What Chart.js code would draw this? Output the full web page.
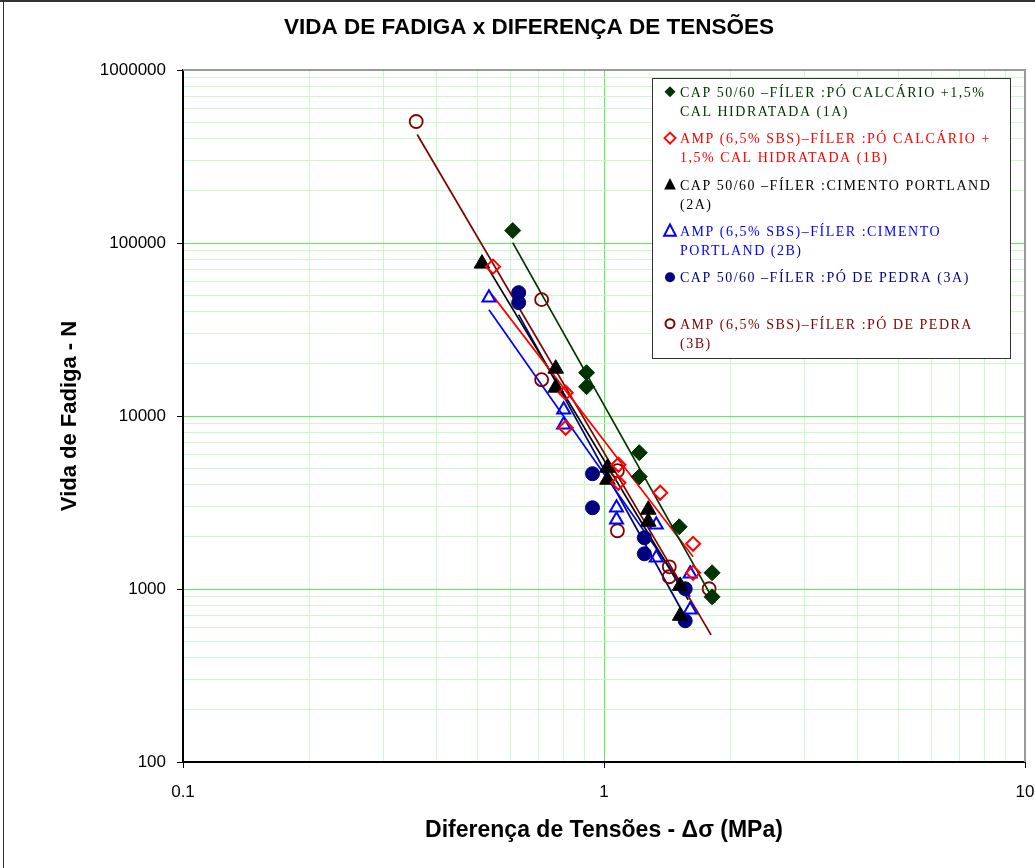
<!DOCTYPE html>
<html><head><meta charset="utf-8">
<script src="https://cdn.jsdelivr.net/npm/chart.js@4/dist/chart.umd.min.js"></script>
<style>html,body{margin:0;padding:0;background:#fff;}canvas{display:block;}</style>
</head><body>
<canvas id="c" width="1035" height="868"></canvas>
<script>
// ---- text ----
const chartTitle = 'VIDA DE FADIGA x DIFERENÇA DE TENSÕES';
const xAxisTitle = 'Diferença de Tensões - Δσ (MPa)';
const yAxisTitle = 'Vida de Fadiga - N';
const xTickValues = [0.1, 1, 10];
const xTickLabels = ['0.1', '1', '10'];
const yTickValues = [100, 1000, 10000, 100000, 1000000];
const yTickLabels = ['100', '1000', '10000', '100000', '1000000'];

const seriesLabels = [
  ['CAP 50/60 –FÍLER :PÓ CALCÁRIO +1,5%', 'CAL HIDRATADA (1A)'],
  ['AMP (6,5% SBS)–FÍLER :PÓ CALCÁRIO +', '1,5% CAL HIDRATADA (1B)'],
  ['CAP 50/60 –FÍLER :CIMENTO PORTLAND', '(2A)'],
  ['AMP (6,5% SBS)–FÍLER :CIMENTO', 'PORTLAND (2B)'],
  ['CAP 50/60 –FÍLER :PÓ DE PEDRA (3A)'],
  ['AMP (6,5% SBS)–FÍLER :PÓ DE PEDRA', '(3B)']
];

// ---- data (Δσ in MPa, N cycles) ----
const x1A = [0.607, 0.909, 0.909, 1.213, 1.213, 1.509, 1.806, 1.806];
const y1A = [118000, 17800, 14770, 6135, 4456, 2289, 1241, 901];
const x1B = [0.545, 0.811, 0.811, 1.082, 1.082, 1.36, 1.628, 1.628];
const y1B = [73000, 13640, 8556, 5226, 4113, 3600, 1825, 1241];
const x2A = [0.513, 0.768, 0.768, 1.019, 1.019, 1.274, 1.274, 1.517, 1.517];
const y2A = [76000, 18770, 14580, 5023, 4280, 2872, 2447, 1043, 700];
const x2B = [0.533, 0.802, 0.802, 1.071, 1.071, 1.331, 1.331, 1.602, 1.602];
const y2B = [48300, 10870, 8907, 2949, 2513, 2351, 1515, 1224, 758];
const x3A = [0.627, 0.627, 0.939, 0.939, 1.247, 1.247, 1.559, 1.559];
const y3A = [51650, 45220, 4638, 2949, 1978, 1598, 1003, 655];
const x3B = [0.358, 0.711, 0.711, 1.076, 1.076, 1.429, 1.429, 1.777];
const y3B = [503700, 47060, 16220, 4827, 2171, 1344, 1177, 1003];

// ---- trend lines (end points) ----
const trendX1A = [0.607, 1.836], trendY1A = [100500, 832];
const trendX1B = [0.542, 1.628], trendY1B = [50300, 1536];
const trendX2A = [0.533, 1.585], trendY2A = [70200, 866];
const trendX2B = [0.533, 1.602], trendY2B = [41190, 902];
const trendX3A = [0.627, 1.559], trendY3A = [38540, 691];
const trendX3B = [0.360, 1.796], trendY3B = [423600, 543];

const seriesX = [x1A, x1B, x2A, x2B, x3A, x3B];
const seriesY = [y1A, y1B, y2A, y2B, y3A, y3B];
const trendX = [trendX1A, trendX1B, trendX2A, trendX2B, trendX3A, trendX3B];
const trendY = [trendY1A, trendY1B, trendY2A, trendY2B, trendY3A, trendY3B];

// ---- styles ----
const seriesStyles = [
  {color: '#003300', style: 'rectRot', fill: true,  r: 8,   bw: 1,   lr: 5.5},
  {color: '#ff0000', style: 'rectRot', fill: false, r: 7,   bw: 2,   lr: 5.5},
  {color: '#000000', style: 'triangle', fill: true, r: 9,   bw: 1,   lr: 6.5},
  {color: '#0000ff', style: 'triangle', fill: false, r: 7.5, bw: 2,  lr: 6.5},
  {color: '#000080', style: 'circle',  fill: true,  r: 7,   bw: 1,   lr: 5},
  {color: '#800000', style: 'circle',  fill: false, r: 6.5, bw: 1.8, lr: 4.5}
];

const pair = (xs, ys) => xs.map((x, i) => ({x: x, y: ys[i]}));
const datasets = [];
seriesX.forEach((xs, i) => {
  const s = seriesStyles[i];
  datasets.push({
    label: seriesLabels[i].join(' '),
    data: pair(xs, seriesY[i]),
    pointStyle: s.style,
    pointRadius: s.r,
    pointBackgroundColor: s.fill ? s.color : 'rgba(0,0,0,0)',
    pointBorderColor: s.color,
    pointBorderWidth: s.bw,
    showLine: false,
    order: 0
  });
});
trendX.forEach((xs, i) => {
  datasets.push({
    label: 'trend ' + i,
    data: pair(xs, trendY[i]),
    showLine: true,
    borderColor: seriesStyles[i].color,
    borderWidth: 1.7,
    pointRadius: 0,
    fill: false,
    order: 1
  });
});

function gridValues(majors) {
  const v = [];
  for (let d = 0; d < majors.length - 1; d++) {
    for (let k = 1; k <= 9; k++) v.push(majors[d] * k);
  }
  v.push(majors[majors.length - 1]);
  return v;
}
const isMajor = (val, majors) => majors.some(m => Math.abs(val - m) / m < 1e-9);
const MAJOR_GRID = '#5cf05c', MINOR_GRID = '#cdf7cd';
const sansBold = {family: "'Liberation Sans', Arial, sans-serif", size: 23, weight: 'bold'};
const sansBoldY = {family: "'Liberation Sans', Arial, sans-serif", size: 22, weight: 'bold'};
const tickFont = {family: "'Liberation Sans', Arial, sans-serif", size: 17};

const decor = {
  id: 'decor',
  beforeDraw(chart) {
    const ctx = chart.ctx;
    ctx.save();
    ctx.fillStyle = '#fff';
    ctx.fillRect(0, 0, chart.width, chart.height);
    ctx.restore();
  },
  beforeDatasetsDraw(chart) {
    const {ctx, chartArea: a} = chart;
    ctx.save();
    ctx.strokeStyle = '#9a9a9a';
    ctx.lineWidth = 2;
    ctx.beginPath();
    ctx.moveTo(a.left, a.top);
    ctx.lineTo(a.right, a.top);
    ctx.lineTo(a.right, a.bottom);
    ctx.stroke();
    ctx.restore();
  },
  afterDraw(chart) {
    const ctx = chart.ctx;
    ctx.save();
    // outer frame
    ctx.fillStyle = '#333';
    ctx.fillRect(0, 0, chart.width, 2);
    ctx.fillRect(3, 0, 1, chart.height);
    // title
    ctx.fillStyle = '#000';
    ctx.font = 'bold 22.5px "Liberation Sans", Arial, sans-serif';
    ctx.textAlign = 'center';
    ctx.textBaseline = 'middle';
    ctx.fillText(chartTitle, 529, 28);
    // legend box
    const bx = 652.5, by = 78.5, bw = 358, bh = 280;
    ctx.fillStyle = '#fff';
    ctx.fillRect(bx, by, bw, bh);
    ctx.strokeStyle = '#333';
    ctx.lineWidth = 1;
    ctx.strokeRect(bx, by, bw, bh);
    ctx.font = '14px "Liberation Serif", "Times New Roman", serif';
    try { ctx.letterSpacing = '1.5px'; } catch (e) {}
    ctx.textAlign = 'left';
    ctx.textBaseline = 'alphabetic';
    seriesLabels.forEach((lines, i) => {
      const s = seriesStyles[i];
      const y0 = 91.7 + i * 46.4;
      const mx = 670, my = y0, r = s.lr;
      ctx.beginPath();
      if (s.style === 'rectRot') {
        ctx.moveTo(mx - r, my); ctx.lineTo(mx, my - r); ctx.lineTo(mx + r, my); ctx.lineTo(mx, my + r); ctx.closePath();
      } else if (s.style === 'triangle') {
        ctx.moveTo(mx, my - r); ctx.lineTo(mx + r * 0.9, my + r * 0.75); ctx.lineTo(mx - r * 0.9, my + r * 0.75); ctx.closePath();
      } else {
        ctx.arc(mx, my, r, 0, Math.PI * 2);
      }
      if (s.fill) { ctx.fillStyle = s.color; ctx.fill(); }
      else { ctx.strokeStyle = s.color; ctx.lineWidth = 2; ctx.stroke(); }
      ctx.fillStyle = s.color;
      lines.forEach((t, j) => ctx.fillText(t, 680, y0 + 5 + j * 19));
    });
    ctx.restore();
  }
};

new Chart(document.getElementById('c'), {
  type: 'scatter',
  data: {datasets: datasets},
  options: {
    responsive: false,
    animation: false,
    layout: {padding: {left: 0, right: 6, top: 70, bottom: 0}},
    plugins: {legend: {display: false}, tooltip: {enabled: false}, title: {display: false}},
    scales: {
      x: {
        type: 'logarithmic', min: 0.1, max: 10, position: 'bottom',
        afterBuildTicks: s => { s.ticks = gridValues(xTickValues).map(v => ({value: v})); },
        afterFit: s => { s.height = 106; s.paddingLeft = 0; s.paddingRight = 0; },
        ticks: {
          autoSkip: false, maxRotation: 0, minRotation: 0, padding: 14, color: '#000', font: tickFont,
          callback: v => { const k = xTickValues.findIndex(m => Math.abs(v - m) / m < 1e-9); return k >= 0 ? xTickLabels[k] : ''; }
        },
        grid: {
          color: c => isMajor(c.tick.value, xTickValues) ? MAJOR_GRID : MINOR_GRID,
          tickColor: c => isMajor(c.tick.value, xTickValues) ? '#000' : 'rgba(0,0,0,0)',
          lineWidth: 1, tickLength: 6
        },
        border: {color: '#000', width: 2},
        title: {display: true, text: xAxisTitle, color: '#000', font: sansBold, padding: {top: 0, bottom: 24}}
      },
      y: {
        type: 'logarithmic', min: 100, max: 1000000, position: 'left',
        afterBuildTicks: s => { s.ticks = gridValues(yTickValues).map(v => ({value: v})); },
        afterFit: s => { s.width = 183; s.paddingTop = 0; s.paddingBottom = 0; },
        ticks: {
          autoSkip: false, padding: 11, color: '#000', font: tickFont,
          callback: v => { const k = yTickValues.findIndex(m => Math.abs(v - m) / m < 1e-9); return k >= 0 ? yTickLabels[k] : ''; }
        },
        grid: {
          color: c => isMajor(c.tick.value, yTickValues) ? MAJOR_GRID : MINOR_GRID,
          tickColor: c => isMajor(c.tick.value, yTickValues) ? '#000' : 'rgba(0,0,0,0)',
          lineWidth: 1, tickLength: 6
        },
        border: {color: '#000', width: 2},
        title: {display: true, text: yAxisTitle, color: '#000', font: sansBoldY, padding: {top: 57, bottom: 0}}
      }
    }
  },
  plugins: [decor]
});
</script>
</body></html>
